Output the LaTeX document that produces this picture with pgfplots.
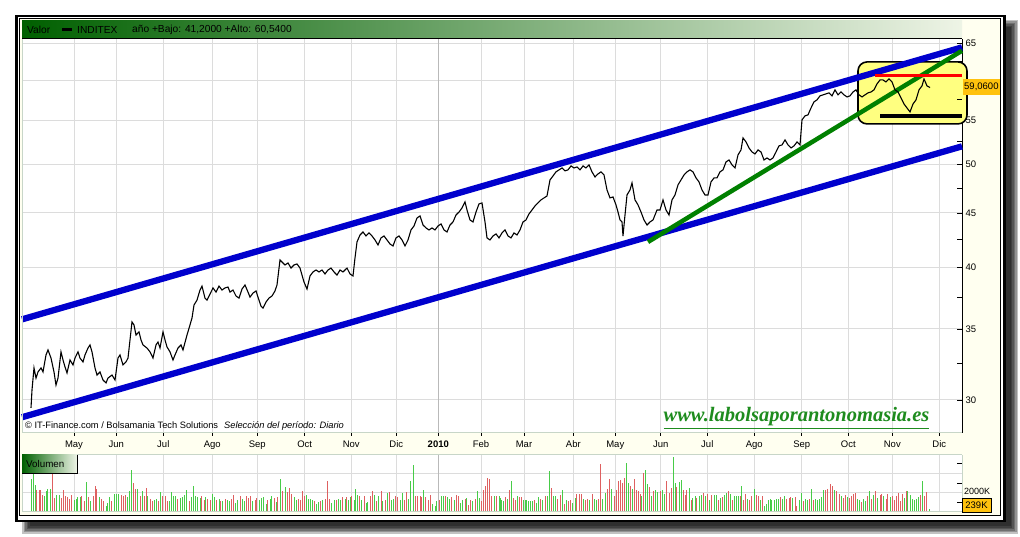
\documentclass[border=0pt]{standalone}
\usepackage{fontspec}
\setmainfont{Liberation Sans}
\newfontfamily\webfont{Liberation Serif}
\usepackage{pgfplots}
\usepackage{pgfplotstable}
\pgfplotsset{compat=1.18}

\definecolor{ivory}{RGB}{255,255,240}
\definecolor{gridc}{RGB}{220,220,220}
\definecolor{hdrdark}{RGB}{0,96,0}
\definecolor{hdrlight}{RGB}{238,244,230}
\definecolor{chanblue}{RGB}{0,0,205}
\definecolor{trendgreen}{RGB}{0,128,0}
\definecolor{boxyellow}{RGB}{255,255,128}
\definecolor{lblorange}{RGB}{255,194,14}
\definecolor{volgreen}{RGB}{72,204,72}
\definecolor{volred}{RGB}{222,96,96}
\definecolor{panelline}{RGB}{200,214,200}
\definecolor{webgreen}{RGB}{30,140,30}

\pgfplotstableread{
x p
31 29.49
32 30.66
34 32.16
36 31.46
38 31.88
41 32.16
43 31.88
46 33.08
48 33.44
51 32.86
54 31.88
56 30.99
58 31.46
61 33.30
63 32.72
65 32.23
67 31.81
70 32.72
73 32.37
75 32.86
78 33.30
80 32.86
83 32.58
85 33.08
88 33.58
90 33.80
92 33.30
95 32.16
97 31.67
100 31.88
103 31.33
106 31.13
108 31.46
112 31.67
115 31.33
118 32.86
120 33.08
123 32.37
126 32.58
128 32.86
132 35.53
134 35.30
136 34.54
139 34.77
141 34.17
143 33.80
147 33.58
150 33.30
153 32.86
156 33.80
158 34.02
160 33.58
163 34.77
165 34.17
167 33.66
170 33.30
173 32.72
175 33.08
178 33.58
181 33.80
183 33.44
187 34.54
190 35.30
192 35.84
194 36.86
197 37.26
200 38.08
202 38.41
205 37.42
207 37.26
210 37.75
213 38.25
216 37.91
219 38.41
222 38.08
225 38.25
228 38.33
230 37.91
233 38.08
236 37.59
239 37.42
242 38.16
245 38.50
248 37.91
250 37.50
253 37.83
256 38.00
259 37.26
261 36.77
263 36.62
266 37.10
269 37.42
272 37.59
275 38.00
277 38.50
280 40.64
282 40.46
285 40.20
288 40.38
291 39.94
294 40.20
297 40.29
300 39.94
302 39.34
304 38.75
307 38.16
310 39.26
313 39.60
316 39.77
319 39.60
322 39.77
325 39.43
328 39.77
331 39.94
334 39.60
337 39.34
340 39.77
343 39.60
347 39.94
350 39.43
353 39.26
355 40.82
357 42.26
360 42.90
363 43.18
366 42.81
369 43.09
372 42.81
375 42.44
378 41.98
381 42.63
384 42.81
387 42.44
390 42.07
393 41.89
396 42.63
399 42.81
402 42.44
405 41.89
408 42.44
411 43.37
414 43.75
417 44.51
420 44.71
423 43.84
426 43.56
429 43.37
432 43.56
435 43.37
438 43.75
441 43.94
444 43.37
447 43.18
450 43.84
453 44.13
456 44.80
459 45.09
462 45.49
465 46.09
467 45.29
470 44.32
473 44.13
476 45.09
479 45.89
482 45.99
485 44.13
487 42.63
490 42.44
493 42.81
496 43.00
499 42.63
502 43.09
505 43.37
508 42.81
511 42.63
514 43.09
517 42.90
520 43.37
523 44.13
526 44.32
529 44.90
532 45.29
535 45.69
538 45.99
541 46.29
544 46.49
547 46.69
550 48.34
553 48.76
556 49.19
559 49.40
562 49.61
565 49.30
568 49.40
571 49.83
574 49.61
577 49.72
580 49.40
583 49.83
586 49.61
589 49.94
592 49.19
595 48.65
598 48.97
601 49.19
604 48.86
607 47.30
610 46.49
613 46.59
616 45.79
618 45.09
620 44.32
622 44.13
623 42.81
625 44.80
627 46.79
630 47.30
632 48.03
635 46.29
638 45.79
641 45.09
644 44.32
647 43.84
650 44.13
653 44.32
657 45.29
660 45.29
663 46.29
666 45.29
669 44.80
672 46.29
675 46.79
678 47.82
681 48.34
684 48.86
687 49.19
690 49.40
693 49.19
696 48.55
699 48.13
702 47.30
705 46.79
708 46.79
711 48.13
714 48.55
717 48.55
720 49.19
723 49.40
726 50.26
729 50.48
732 49.94
735 49.61
738 51.03
741 51.59
743 52.95
746 52.49
749 51.81
752 51.36
755 51.14
758 51.59
761 51.36
764 50.48
767 50.70
770 50.48
773 50.70
776 51.36
779 52.04
782 52.15
785 52.72
788 52.15
791 51.81
794 52.04
797 52.49
800 52.15
802 55.06
805 55.54
808 55.66
811 56.50
814 57.25
817 57.50
820 58.00
823 58.13
826 58.25
829 58.38
832 58.00
835 58.76
838 58.13
841 58.50
844 58.13
847 57.87
850 58.00
853 58.50
856 58.76
859 58.13
862 57.87
865 58.13
868 58.38
871 58.50
874 58.76
877 59.52
880 60.04
883 60.04
886 59.78
889 60.17
892 59.78
895 58.76
898 58.50
901 57.75
904 56.99
907 56.50
910 56.02
913 56.99
916 57.50
919 58.76
922 59.27
924 60.17
927 59.27
930 59.06
}\pricetable

\pgfplotstableread{
x v c
31.0 3430 1
33.3 4025 1
35.0 2800 1
36.7 2275 0
39.3 2275 0
40.7 2275 0
42.7 1750 0
44.3 1645 1
46.0 2100 1
47.7 2345 1
50.0 2345 1
52.3 4025 0
54.3 1400 0
56.7 1750 1
59.0 1750 1
61.0 1400 0
63.3 2275 0
65.7 1575 0
67.7 1505 0
69.3 1295 0
71.7 1750 0
74.0 1225 1
76.0 1295 1
77.7 1470 1
80.0 1470 1
81.7 1645 0
84.0 1050 0
86.0 3045 1
88.3 1470 0
90.7 1120 1
93.3 1575 0
95.0 2695 0
96.7 2345 0
99.0 1470 1
101.0 1295 0
103.3 1120 0
106.0 595 1
107.7 875 1
109.3 1470 1
111.7 1050 0
114.0 1820 1
116.0 1820 1
118.3 1820 1
121.0 1750 0
123.3 1645 0
125.7 1750 0
127.3 1470 1
129.3 2100 1
131.3 4375 1
133.3 2975 0
135.7 2345 0
137.7 2345 1
140.0 1575 0
142.3 2100 1
144.0 1575 0
146.0 2450 0
147.7 1575 1
150.0 1295 0
152.3 1120 0
154.3 1225 1
156.3 1295 1
158.3 1120 0
160.7 1995 1
162.7 1575 0
165.0 1645 0
167.3 1120 0
169.3 1120 1
171.7 1995 1
173.3 1645 1
175.7 1645 1
177.7 1295 0
180.0 1400 1
182.3 1505 1
184.3 1750 1
186.7 2205 1
189.0 1050 0
191.0 1505 1
193.3 2695 1
195.7 1575 1
197.7 1470 1
200.0 1400 1
201.7 1575 0
204.0 1225 0
205.7 1470 1
207.3 1295 0
210.0 1225 0
212.3 1855 1
214.3 1470 1
216.7 1225 0
219.0 1330 1
220.7 1050 0
222.7 1120 1
225.0 1330 0
227.3 1225 1
229.3 1120 1
231.7 1295 0
233.3 1680 0
235.7 875 1
237.7 1225 1
240.0 1575 0
242.3 1330 1
244.3 1120 1
246.7 1645 0
248.3 1400 0
250.7 1575 0
252.7 1120 1
255.0 1225 0
256.7 1400 0
259.0 1225 1
261.0 1400 1
263.3 1505 1
266.0 805 1
267.7 1225 0
270.0 1295 1
271.7 1575 1
274.0 1400 0
276.0 945 1
277.7 1505 0
280.0 3430 1
282.3 2100 0
285.0 2520 1
287.3 1995 0
289.3 2450 0
291.7 1820 0
294.0 1470 1
296.0 1225 1
298.3 1295 0
300.0 1225 0
302.0 2170 0
304.0 1575 0
306.0 1750 1
308.3 1330 1
310.0 1295 1
312.3 1225 1
314.3 1050 0
316.0 805 1
318.3 945 1
320.7 1120 0
322.7 1225 1
325.0 1295 0
327.7 3220 0
329.3 1295 0
331.7 875 1
334.0 1225 1
336.0 1225 0
338.3 1295 1
340.7 1225 1
342.7 1470 0
345.0 1295 1
346.7 1470 0
348.3 1225 1
350.0 1470 1
351.7 1575 0
354.0 1225 1
355.7 2345 1
357.3 1750 1
359.3 1575 0
361.7 1225 1
364.0 1575 0
366.0 875 1
367.7 945 1
370.0 1575 0
372.3 2100 0
374.0 1750 1
376.0 1050 0
378.3 1575 1
381.0 2100 0
382.7 1050 1
385.0 1225 0
387.0 1925 1
389.0 1995 0
391.0 1225 1
393.3 1295 1
395.7 1575 0
397.7 1470 0
400.0 1225 1
402.7 1925 1
404.3 1225 0
406.7 1995 0
408.3 1295 1
410.7 3150 1
413.3 4900 1
415.7 1645 0
417.7 1575 0
420.0 1575 0
421.7 1470 0
423.3 2205 1
425.7 1470 0
428.3 1225 0
430.7 1750 0
432.7 805 1
435.0 595 1
436.7 1050 1
439.3 1225 0
441.7 1575 1
443.3 1645 1
445.0 1575 0
447.3 1470 1
449.3 1295 1
451.7 1470 0
454.0 1225 1
456.0 1750 0
458.3 1575 0
460.7 875 1
462.7 1225 1
465.0 1295 0
466.7 1400 1
468.3 700 0
470.7 1225 0
472.7 1050 1
475.0 1295 0
477.3 2100 1
479.3 1400 1
481.7 1120 0
483.3 2275 0
485.0 2625 0
487.3 3500 0
489.3 3395 0
491.7 1575 0
494.0 1575 1
496.7 1575 0
499.0 1575 1
500.0 1400 1
501.7 1225 1
503.3 1050 1
505.0 1470 0
507.3 1295 1
509.3 2275 0
511.7 3150 1
513.3 1400 0
515.0 1225 0
517.3 1645 1
519.3 1470 0
521.0 1470 0
523.3 1225 1
525.0 1225 1
526.7 1155 1
528.3 1050 1
530.0 1050 1
532.3 1120 1
534.3 1225 0
536.0 875 1
538.3 1505 1
540.7 1295 0
542.7 1225 1
545.0 1575 0
547.3 1575 1
549.3 4200 1
551.7 2450 0
553.3 1575 1
555.7 1645 1
557.7 1295 0
560.0 1750 0
562.3 2205 1
564.3 805 0
566.7 1225 1
568.3 1050 0
570.7 1225 0
572.7 875 1
575.0 1400 1
576.7 1820 0
579.0 1820 0
581.0 1820 0
583.3 1295 1
585.0 1225 0
587.3 1295 0
589.3 1225 1
592.3 1820 0
594.3 1295 1
596.7 1225 1
598.3 1295 0
600.7 5005 0
602.7 1295 1
605.0 1925 1
607.3 2345 0
609.3 3395 0
611.7 2345 1
614.0 1575 0
616.0 2275 0
618.3 3220 0
620.7 3325 0
622.3 2975 0
624.3 3500 0
626.7 5075 1
628.3 2975 1
630.0 2625 0
632.3 2345 1
634.3 3395 0
636.7 2275 0
638.3 2170 0
640.0 1820 0
641.7 1575 1
643.3 4025 0
645.7 4375 1
647.3 2870 1
649.3 2520 0
651.7 1645 1
653.3 2170 0
655.7 2275 1
657.7 1995 1
660.0 2170 0
662.3 2275 1
664.3 1820 1
666.7 3220 0
669.0 1925 0
671.0 2450 0
673.3 5705 1
675.0 2975 1
676.7 2520 0
679.0 3045 1
681.0 3325 1
683.3 2275 0
685.0 1750 0
686.7 2275 0
689.0 2450 1
691.0 1225 0
692.7 1400 1
695.0 1575 1
696.7 1400 0
699.0 1575 1
701.0 1750 1
703.3 1925 0
705.7 1575 1
707.3 1820 0
709.3 1225 1
711.7 1750 0
714.0 1750 1
716.0 1750 1
718.3 1225 0
720.0 1400 1
722.3 1470 0
724.0 1750 1
726.0 1925 1
728.3 2100 0
730.0 1820 1
732.3 1225 0
734.3 1575 1
736.0 1575 1
738.3 1575 1
740.0 1575 0
741.7 2625 1
743.3 1225 0
745.7 1820 0
747.3 1295 1
749.3 1225 0
751.7 1575 0
754.0 2345 1
756.0 1750 0
758.3 1575 0
760.0 1225 1
762.3 1575 0
764.3 595 1
766.0 805 1
768.3 1225 1
770.0 1295 1
771.7 1225 1
774.0 1225 1
776.0 1295 1
778.3 1295 1
780.0 1470 0
782.3 1295 1
784.3 1575 1
786.7 1295 0
789.0 1400 0
790.7 1470 0
792.7 1400 1
795.0 1470 0
796.7 525 0
799.0 1225 1
801.0 1925 1
803.3 1120 0
805.7 1295 1
807.3 1225 1
809.3 1295 0
811.0 2345 1
813.3 1225 0
815.7 1295 1
817.7 1225 1
819.3 1295 1
821.7 1470 1
823.3 2275 1
825.7 2275 0
827.7 2345 0
830.0 2870 0
832.3 2625 0
834.3 2275 1
836.7 2170 0
839.0 1820 0
841.0 1575 1
843.3 1400 0
845.0 1750 0
847.3 1470 1
849.3 1400 0
851.7 1575 0
853.3 1855 0
855.0 1925 0
857.3 1295 1
859.3 1225 1
861.0 945 0
863.3 1295 1
865.7 1120 1
867.7 1575 0
869.3 2170 1
871.7 1295 0
873.3 1750 1
875.7 2170 0
877.7 1400 1
880.0 1750 0
881.7 1820 0
883.3 1575 1
886.0 1295 0
887.7 1820 0
890.0 1470 1
892.3 1575 0
894.3 1225 0
896.7 1575 0
898.3 1925 0
900.0 1050 0
902.3 1820 0
904.0 1400 1
906.0 2100 0
907.7 2170 1
910.0 1750 1
912.3 1295 1
914.0 1225 1
916.0 1330 1
918.3 1470 1
920.0 1750 0
922.3 3220 1
924.3 1575 0
926.7 1995 0
929.0 280 1
}\voltable

\begin{document}
\begin{tikzpicture}
\begin{scope}[x=1pt,y=1pt]
\useasboundingbox (0,0) rectangle (1020,537);
\fill[white] (0,0) rectangle (1020,537);
% shadow
\foreach \i in {0,1,2,3,4,5}{
  \fill[black, opacity=0.24] (22+1.5*\i,3+1.5*\i) rectangle (1018-1.5*\i,517-1.5*\i);
}
% frame
\fill[black] (15,14.5) rectangle (1005.5,522);
\fill[white] (17.5,17) rectangle (1003,519.5);
\fill[black] (18.5,20.5) rectangle (1000.5,518.5);
\fill[ivory] (19.5,21.5) rectangle (999.5,517.5);
% header
\shade[left color=hdrdark, right color=hdrlight] (22,498) rectangle (962,516);
\draw[black, line width=1pt] (22,498) -- (962,498);
\node[anchor=west, inner sep=0pt, font=\fontsize{10.2}{11}\selectfont] at (27,507) {Valor};
\fill[black] (62,505.5) rectangle (72,508.5);
\node[anchor=west, inner sep=0pt, font=\fontsize{10.2}{11}\selectfont] at (77,507) {INDITEX};
\node[anchor=west, inner sep=0pt, font=\fontsize{10.2}{11}\selectfont] at (132,507) {año +Bajo: 41,2000 +Alto: 60,5400};
\end{scope}

% main price axis
\begin{axis}[
  at={(22pt,104pt)}, anchor=south west,
  width=940pt, height=394pt, scale only axis,
  xmin=22, xmax=962, ymode=log, ymin=27.93, ymax=65.62,
  axis x line*=bottom, axis y line*=right,
  x axis line style={draw=panelline, line width=1pt},
  y axis line style={draw=black, line width=0.8pt},
  xtick={74,116.3,163.3,212.3,257.3,304.7,351.3,396.3,438.3,481,524,573.3,615.3,660.7,707.3,754.3,801.7,848.3,892.3,939.3},
  xticklabels={May,Jun,Jul,Ago,Sep,Oct,Nov,Dic,\textbf{2010},Feb,Mar,Abr,May,Jun,Jul,Ago,Sep,Oct,Nov,Dic},
  ytick={30,35,40,45,50,55,60,65},
  yticklabels={30,35,40,45,50,55,{},65},
  tick align=inside, major tick length=5pt,
  xtick style={draw=none},
  ytick style={black, line width=0.8pt},
  xmajorgrids, ymajorgrids,
  major grid style={gridc, line width=1pt},
  tick label style={font=\fontsize{9.5}{10}\selectfont},
  xticklabel style={yshift=-4pt},
  axis background/.style={fill=white},
  clip=false,
]
\draw[gray!55, line width=1pt] (axis cs:438.3,27.93) -- (axis cs:438.3,65.62);
\draw[fill=boxyellow, draw=black, line width=1.6pt, rounded corners=9pt] (axis cs:858,62.43) rectangle (axis cs:967,54.58);
\addplot[chanblue, line width=6.3pt, mark=none] coordinates {(22,35.73) (962,64.43)};
\addplot[chanblue, line width=6.3pt, mark=none] coordinates {(22,28.90) (962,51.99)};
\addplot[trendgreen, line width=4.5pt, mark=none] coordinates {(648,42.26) (962,63.97)};
\addplot[black, line width=1.1pt, mark=none] table[x=x,y=p] {\pricetable};
\addplot[red, line width=3.5pt, mark=none] coordinates {(875,60.6) (962,60.6)};
\addplot[black, line width=3.5pt, mark=none] coordinates {(880,55.53) (962,55.53)};
\foreach \m in {32.5,37.5,42.5,47.5,52.5,57.5,62.5}{
  \edef\tmp{\noexpand\draw[black, line width=0.8pt] (axis cs:962,\m) -- ++(-5pt,0pt);}\tmp
}
\foreach \m in {74,116.3,163.3,212.3,257.3,304.7,351.3,396.3,438.3,481,524,573.3,615.3,660.7,707.3,754.3,801.7,848.3,892.3,939.3}{
  \edef\tmp{\noexpand\draw[black, line width=0.8pt] (axis cs:\m,27.93) -- ++(0pt,-3.5pt);}\tmp
}
\end{axis}

% volume axis
\begin{axis}[
  at={(22pt,25.5pt)}, anchor=south west,
  width=940pt, height=56.5pt, scale only axis,
  xmin=22, xmax=962, ymin=0, ymax=5930,
  axis x line*=bottom, axis y line*=right,
  axis line style={draw=panelline, line width=1pt},
  xtick={74,116.3,163.3,212.3,257.3,304.7,351.3,396.3,438.3,481,524,573.3,615.3,660.7,707.3,754.3,801.7,848.3,892.3,939.3},
  xticklabels={}, xtick style={draw=none},
  ytick={1000,2000,3000,4000,5000}, yticklabels={},
  scaled y ticks=false,
  tick align=inside, major tick length=5pt,
  ytick style={black, line width=0.8pt},
  xmajorgrids,
  major grid style={gridc, line width=1pt},
  axis background/.style={fill=white},
  clip=false,
]
\draw[gridc, line width=1pt] (axis cs:22,2000) -- (axis cs:962,2000);
\draw[gridc, line width=1pt] (axis cs:22,4000) -- (axis cs:962,4000);
\draw[gray!55, line width=1pt] (axis cs:438.3,0) -- (axis cs:438.3,5930);
\addplot[ycomb, volgreen, line width=1pt, mark=none, restrict expr to domain={\thisrow{c}}{0.5:1.5}] table[x=x,y=v] {\voltable};
\addplot[ycomb, volred, line width=1pt, mark=none, restrict expr to domain={\thisrow{c}}{-0.5:0.5}] table[x=x,y=v] {\voltable};
\end{axis}

\begin{scope}[x=1pt,y=1pt]
\draw[panelline, line width=1pt] (22,104) -- (22,498);
% copyright and website
\node[anchor=west, inner sep=0pt, font=\fontsize{9.3}{10}\selectfont] at (25,111) {© IT-Finance.com / Bolsamania Tech Solutions\hspace{6pt}\textit{Selección del período: Diario}};
\node[anchor=base, inner sep=0pt, text=webgreen, font=\webfont\bfseries\itshape\fontsize{20.5}{23}\selectfont] at (796.5,115) {\underline{www.labolsaporantonomasia.es}};
% price label
\fill[lblorange] (963,442) rectangle (1000,458);
\begin{scope}
\clip (963,442) rectangle (999.5,458);
\node[anchor=west, inner sep=0pt, font=\fontsize{9.5}{10}\selectfont] at (964,450) {59,0600};
\end{scope}
\draw[panelline, line width=1pt] (22,25.5) -- (22,82) -- (962,82);
% Volumen label
\shade[left color=hdrdark, right color=hdrlight] (22,64) rectangle (77,82);
\draw[black, line width=0.8pt] (77,82) -- (77,64) -- (22,64);
\node[anchor=west, inner sep=0pt, font=\fontsize{9.8}{10}\selectfont] at (26,73) {Volumen};
% volume labels
\node[anchor=west, inner sep=0pt, font=\fontsize{9}{10}\selectfont] at (964,46) {2000K};
\draw[fill=lblorange, draw=black, line width=0.8pt] (962,25) rectangle (991,39);
\node[inner sep=0pt, font=\fontsize{9.5}{10}\selectfont] at (976.5,32) {239K};
\end{scope}
\end{tikzpicture}
\end{document}
